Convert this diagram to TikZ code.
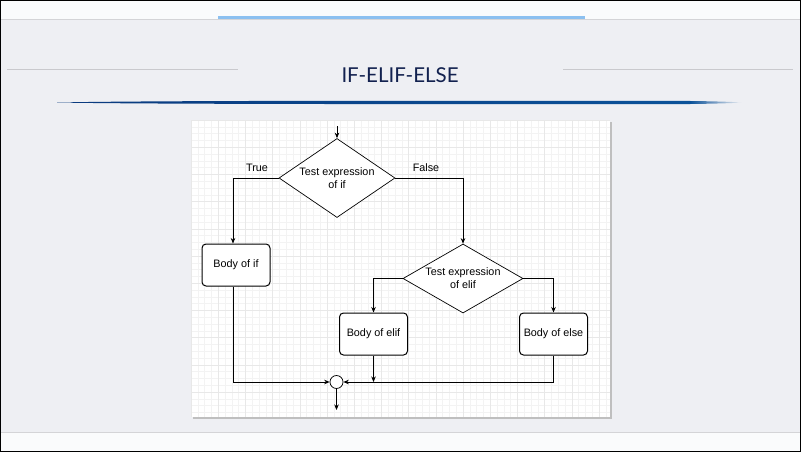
\documentclass[tikz,border=0pt]{standalone}
\usepackage{fontspec}
\setmainfont{Liberation Sans}
\newfontfamily\titlefont{Lato}
\usetikzlibrary{arrows.meta,shapes.geometric,calc}

\definecolor{slidebg}{HTML}{EEEFF3}
\definecolor{bandbg}{HTML}{FAFBFC}
\definecolor{titleblue}{HTML}{12214F}
\definecolor{barblue}{HTML}{8CC0F0}
\definecolor{swooshdark}{HTML}{0A3A7E}
\definecolor{swooshmid}{HTML}{0B5299}
\definecolor{rulegrey}{HTML}{C9C9CD}
\definecolor{gridminor}{HTML}{F3F3F3}
\definecolor{gridmajor}{HTML}{E8E8E8}

\tikzset{
  flow/.style={draw=black, line width=0.7pt},
  arr/.style={flow, -{Stealth[length=5.5pt,width=4.5pt]}},
  decision/.style={diamond, draw=black, line width=0.7pt, fill=white,
    minimum width=116pt, minimum height=79pt, inner sep=0pt, aspect=1.47,
    align=center, font=\fontsize{10.8}{13}\selectfont},
  bodybox/.style={draw=black, line width=1pt, fill=white, rounded corners=4pt,
    minimum width=68pt, minimum height=42pt, inner sep=0pt,
    font=\fontsize{10.8}{13}\selectfont},
  branchlabel/.style={font=\fontsize{10.8}{13}\selectfont, inner sep=0pt},
  junction/.style={circle, draw=black, line width=0.7pt, fill=white,
    minimum size=13pt, inner sep=0pt},
}

\begin{document}
\begin{tikzpicture}[x=1pt,y=-1pt]
\useasboundingbox (0,0) rectangle (801,452);

% slide background and bands
\fill[slidebg] (0,0) rectangle (801,452);
\fill[bandbg] (0,0) rectangle (801,19);
\draw[rulegrey!80, line width=1pt] (0,19.5) -- (801,19.5);
\fill[barblue] (218,16.5) rectangle (585,19.5);
\fill[bandbg] (0,432) rectangle (801,452);
\draw[rulegrey!80, line width=1pt] (0,432) -- (801,432);
\draw[black, line width=2pt] (0,0) rectangle (801,452);

% title with side rules
\draw[rulegrey, line width=1pt] (7,69.5) -- (238,69.5);
\draw[rulegrey, line width=1pt] (563,69.5) -- (793,69.5);
\node[anchor=base, text=titleblue, inner sep=0pt,
  font=\titlefont\fontsize{20.5}{24}\selectfont] (title) at (400,83) {IF-ELIF-ELSE};

% tapered swoosh under the title
\shade[left color=swooshdark, right color=swooshmid]
  (57,102.5) .. controls (150,100.6) and (400,100.6) .. (690,101)
  -- (690,104) .. controls (400,104.2) and (150,104.2) .. (57,102.5) -- cycle;
\shade[left color=swooshmid, right color=slidebg]
  (690,101) .. controls (715,101.3) and (730,101.8) .. (742,102.5)
  .. controls (730,103.2) and (715,103.7) .. (690,104) -- cycle;

% diagram panel with shadow and grid
\fill[black!25] (193,122) rectangle (612,419);
\fill[white] (191,120) rectangle (610,417);
\begin{scope}
  \clip (191,120) rectangle (610,417);
  \foreach \i in {0,...,62} {
    \draw[gridminor, line width=0.6pt] ({191+6.8*\i},120) -- ({191+6.8*\i},417);
  }
  \foreach \j in {0,...,44} {
    \draw[gridminor, line width=0.6pt] (191,{120+6.8*\j}) -- (610,{120+6.8*\j});
  }
  \foreach \i in {0,...,15} {
    \draw[gridmajor, line width=0.6pt] ({191+27.2*\i},120) -- ({191+27.2*\i},417);
  }
  \foreach \j in {0,...,11} {
    \draw[gridmajor, line width=0.6pt] (191,{120+27.2*\j}) -- (610,{120+27.2*\j});
  }
\end{scope}

% flowchart nodes
\coordinate (entry) at (337,126);
\node[decision] (testif) at (337,178) {Test expression\\of if};
\node[decision, minimum width=120pt, minimum height=69pt, aspect=1.74]
  (testelif) at (463,278.5) {Test expression\\of elif};
\node[bodybox] (bodyif) at (236,265) {Body of if};
\node[bodybox] (bodyelif) at (373.5,334) {Body of elif};
\node[bodybox] (bodyelse) at (553.5,334) {Body of else};
\node[junction] (join) at (336.5,382) {};
\coordinate (exit) at (336.5,410);

\node[branchlabel] (truelbl) at (257,168) {True};
\node[branchlabel] (falselbl) at (426,168) {False};

% connectors
\draw[arr] (entry) -- (testif.north);
\draw[arr] (testif.west) -| ($(bodyif.north)+(-3,0)$);
\draw[arr] (testif.east) -| (testelif.north);
\draw[arr] (testelif.west) -| (bodyelif.north);
\draw[arr] (testelif.east) -| (bodyelse.north);
\draw[arr] ($(bodyif.south)+(-3,0)$) |- (join.west);
\draw[arr] (bodyelse.south) |- (join.east);
\draw[arr] (bodyelif.south) -- (bodyelif.south |- join.east);
\draw[arr] (join.south) -- (exit);

\end{tikzpicture}
\end{document}
